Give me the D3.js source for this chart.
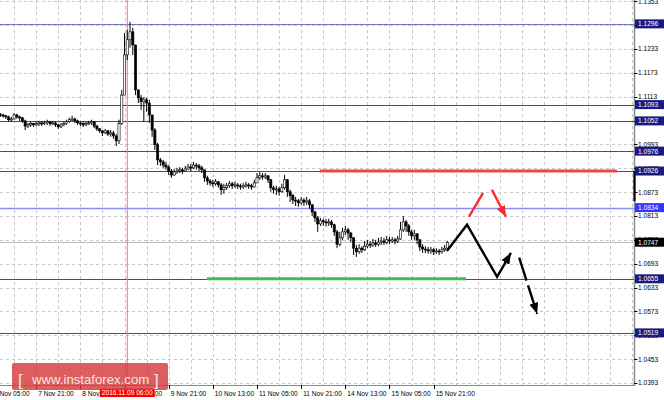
<!DOCTYPE html>
<html><head><meta charset="utf-8">
<script src="https://cdn.jsdelivr.net/npm/d3@7"></script>
<style>body{margin:0;background:#fff}svg{display:block}text{font-family:"Liberation Sans",Arial,sans-serif}</style>
</head><body><svg id="c" width="664" height="400"></svg>
<script>
// ---- data (EURUSD H1) ----
const firstOpen = 1.1068;
const closes = [1.1067,1.1065,1.1062,1.1055,1.1057,1.1067,1.1062,1.1060,1.1052,1.1039,
 1.1042,1.1045,1.1042,1.1045,1.1047,1.1045,1.1047,1.1050,1.1045,1.1047,
 1.1042,1.1037,1.1042,1.1045,1.1050,1.1055,1.1057,1.1052,1.1047,1.1045,
 1.1042,1.1045,1.1047,1.1050,1.1039,1.1032,1.1027,1.1022,1.1027,1.1019,
 1.1022,1.1014,1.1002,1.1045,1.1117,1.1218,1.1256,1.1276,1.1243,1.1130,
 1.1110,1.1100,1.1105,1.1097,1.1067,1.1029,1.0992,1.0954,1.0949,1.0941,
 1.0936,1.0926,1.0916,1.0924,1.0926,1.0929,1.0926,1.0931,1.0936,1.0934,
 1.0941,1.0939,1.0934,1.0929,1.0909,1.0901,1.0896,1.0894,1.0899,1.0891,
 1.0879,1.0884,1.0889,1.0894,1.0889,1.0891,1.0889,1.0886,1.0889,1.0891,
 1.0889,1.0886,1.0896,1.0909,1.0914,1.0911,1.0914,1.0904,1.0884,1.0879,
 1.0881,1.0874,1.0884,1.0904,1.0874,1.0864,1.0853,1.0851,1.0846,1.0853,
 1.0848,1.0851,1.0841,1.0823,1.0808,1.0793,1.0801,1.0798,1.0796,1.0798,
 1.0791,1.0773,1.0742,1.0758,1.0773,1.0778,1.0770,1.0758,1.0732,1.0723,
 1.0732,1.0728,1.0737,1.0742,1.0740,1.0745,1.0742,1.0747,1.0750,1.0747,
 1.0753,1.0750,1.0753,1.0750,1.0755,1.0778,1.0798,1.0788,1.0773,1.0763,
 1.0768,1.0753,1.0735,1.0730,1.0728,1.0725,1.0728,1.0723,1.0725,1.0723,
 1.0728,1.0732,1.0747];
const highs = [1.1072,1.1070,1.1067,1.1065,1.1062,1.1072,1.1070,1.1065,1.1062,1.1055,
 1.1047,1.1050,1.1047,1.1050,1.1052,1.1050,1.1052,1.1055,1.1052,1.1052,
 1.1050,1.1045,1.1047,1.1050,1.1055,1.1060,1.1065,1.1060,1.1055,1.1050,
 1.1050,1.1050,1.1052,1.1055,1.1050,1.1042,1.1034,1.1029,1.1032,1.1029,
 1.1029,1.1027,1.1019,1.1055,1.1130,1.1273,1.1281,1.1301,1.1286,1.1243,
 1.1130,1.1117,1.1112,1.1110,1.1105,1.1060,1.1034,1.0997,1.0959,1.0954,
 1.0949,1.0941,1.0931,1.0931,1.0934,1.0936,1.0934,1.0939,1.0944,1.0944,
 1.0949,1.0946,1.0944,1.0939,1.0929,1.0914,1.0906,1.0904,1.0906,1.0901,
 1.0896,1.0894,1.0896,1.0901,1.0899,1.0899,1.0896,1.0894,1.0896,1.0899,
 1.0896,1.0894,1.0904,1.0921,1.0924,1.0921,1.0921,1.0916,1.0906,1.0889,
 1.0889,1.0886,1.0894,1.0916,1.0906,1.0879,1.0869,1.0861,1.0856,1.0861,
 1.0858,1.0861,1.0856,1.0843,1.0826,1.0813,1.0808,1.0806,1.0806,1.0806,
 1.0803,1.0793,1.0778,1.0773,1.0783,1.0788,1.0783,1.0773,1.0760,1.0740,
 1.0742,1.0737,1.0750,1.0753,1.0750,1.0755,1.0753,1.0758,1.0760,1.0758,
 1.0763,1.0760,1.0760,1.0758,1.0763,1.0798,1.0813,1.0803,1.0793,1.0778,
 1.0778,1.0770,1.0755,1.0742,1.0737,1.0735,1.0735,1.0732,1.0732,1.0730,
 1.0735,1.0740,1.0750];
const lows = [1.1062,1.1060,1.1057,1.1050,1.1050,1.1055,1.1057,1.1052,1.1047,1.1029,
 1.1034,1.1037,1.1037,1.1039,1.1039,1.1039,1.1042,1.1042,1.1039,1.1042,
 1.1037,1.1032,1.1034,1.1039,1.1042,1.1047,1.1052,1.1047,1.1042,1.1039,
 1.1037,1.1039,1.1042,1.1042,1.1034,1.1027,1.1022,1.1014,1.1019,1.1014,
 1.1012,1.1007,1.0989,1.0994,1.1042,1.1117,1.1205,1.1236,1.1218,1.1117,
 1.1097,1.1080,1.1050,1.1075,1.1047,1.1012,1.0979,1.0941,1.0939,1.0934,
 1.0929,1.0916,1.0909,1.0914,1.0919,1.0921,1.0919,1.0924,1.0929,1.0926,
 1.0931,1.0929,1.0926,1.0921,1.0899,1.0891,1.0889,1.0886,1.0889,1.0884,
 1.0866,1.0869,1.0879,1.0884,1.0881,1.0884,1.0881,1.0879,1.0881,1.0884,
 1.0881,1.0879,1.0884,1.0899,1.0904,1.0904,1.0906,1.0896,1.0874,1.0869,
 1.0866,1.0864,1.0871,1.0879,1.0861,1.0848,1.0843,1.0838,1.0836,1.0841,
 1.0838,1.0841,1.0831,1.0813,1.0798,1.0773,1.0788,1.0788,1.0786,1.0788,
 1.0783,1.0763,1.0732,1.0737,1.0753,1.0765,1.0753,1.0747,1.0715,1.0710,
 1.0718,1.0720,1.0725,1.0732,1.0732,1.0735,1.0735,1.0737,1.0740,1.0740,
 1.0742,1.0742,1.0745,1.0742,1.0745,1.0753,1.0773,1.0773,1.0763,1.0753,
 1.0753,1.0742,1.0725,1.0720,1.0720,1.0718,1.0718,1.0715,1.0718,1.0715,
 1.0718,1.0723,1.0730];

const timeLabels = ["7 Nov 05:00","7 Nov 21:00","8 Nov 13:00","9 Nov 05:00","9 Nov 21:00","10 Nov 13:00","11 Nov 05:00","11 Nov 21:00","14 Nov 13:00","15 Nov 05:00","15 Nov 21:00"];
const timeLabelBars = [-3,13,29,45,61,77,93,109,125,141,157];
const markerLabel = "2016.11.09 06:00";
const markerBar = 46;
const priceTicks = [1.0393,1.0453,1.0513,1.0573,1.0633,1.0693,1.0753,1.0813,1.0873,1.0933,1.0993,1.1053,1.1113,1.1173,1.1233,1.1293,1.1353];
const navyLevels = [1.1296,1.1093,1.1052,1.0976,1.0926,1.0655,1.0519];
const blueLevel = 1.0834;
const bidPrice = 1.0747;
const redZone = {price:1.0926, from:115.8, to:223.4};
const greenZone = {price:1.0655, from:74.9, to:168.7};
const blackPath = [[161.8,1.0725],[169.1,1.0791],[180.0,1.0660],[185.0,1.0720]];
const blackDashed = [[188.0,1.0708],[194.5,1.0567]];
const redUp = [[169.8,1.0811],[174.9,1.0871]];
const redDown = [[178.1,1.0879],[183.2,1.0811]];
const axisMark = [1.0926,1.0850];

// ---- layout ----
const PW = 634, PH = 385;
const svg = d3.select("#c");
const x = d3.scaleLinear().domain([0,93]).range([0.32,257]);
const y = d3.scaleLinear().domain([1.0388,1.1356]).range([PH,0]);
const fmt = d3.format(".4f");

const defs = svg.append("defs");
defs.append("clipPath").attr("id","plot").append("rect").attr("x",0).attr("y",0).attr("width",PW).attr("height",PH);
function marker(id,color){
  defs.append("marker").attr("id",id).attr("markerUnits","userSpaceOnUse")
    .attr("markerWidth",12).attr("markerHeight",9).attr("refX",11).attr("refY",4.5).attr("orient","auto")
    .append("path").attr("d","M0,0 L11,4.5 L0,9 Z").attr("fill",color);
}
marker("ab","#000"); marker("ar","#ff2a2a");

const plot = svg.append("g").attr("clip-path","url(#plot)");

// grid
const vgrid = d3.range(5, 240, 8);
plot.selectAll(".vg").data(vgrid).join("line")
  .attr("x1",d=>Math.round(x(d))+0.5).attr("x2",d=>Math.round(x(d))+0.5).attr("y1",0).attr("y2",PH)
  .attr("stroke","#c8c8c8").attr("stroke-dasharray","3,3").attr("stroke-width",1);
plot.selectAll(".hg").data(priceTicks).join("line")
  .attr("x1",0).attr("x2",PW).attr("y1",d=>Math.round(y(d))+0.5).attr("y2",d=>Math.round(y(d))+0.5)
  .attr("stroke","#c8c8c8").attr("stroke-dasharray","3,3").attr("stroke-width",1);

// level lines
plot.selectAll(".lv").data(navyLevels).join("line")
  .attr("x1",0).attr("x2",PW).attr("y1",d=>Math.round(y(d))+0.5).attr("y2",d=>Math.round(y(d))+0.5)
  .attr("stroke",d=>d===1.1296?"#7474bc":"#4646aa").attr("stroke-width",1);
plot.append("line").attr("x1",0).attr("x2",PW).attr("y1",Math.round(y(blueLevel))+0.5).attr("y2",Math.round(y(blueLevel))+0.5)
  .attr("stroke","#8c8cff").attr("stroke-width",1.4);
plot.append("line").attr("x1",0).attr("x2",PW).attr("y1",Math.round(y(bidPrice))+0.5).attr("y2",Math.round(y(bidPrice))+0.5)
  .attr("stroke","#bdbdbd").attr("stroke-width",1);

// marker vertical line
plot.append("line").attr("x1",x(markerBar)).attr("x2",x(markerBar)).attr("y1",0).attr("y2",PH)
  .attr("stroke","#ff7070").attr("stroke-width",1);

// zones
plot.append("line").attr("x1",x(redZone.from)).attr("x2",x(redZone.to)).attr("y1",y(redZone.price)).attr("y2",y(redZone.price))
  .attr("stroke","#f24444").attr("stroke-width",3);
plot.append("line").attr("x1",x(greenZone.from)).attr("x2",x(greenZone.to)).attr("y1",y(greenZone.price)).attr("y2",y(greenZone.price))
  .attr("stroke","#3fba4c").attr("stroke-width",3);

// candles
const bars = closes.map((c,i)=>{
  const o = i===0?firstOpen:closes[i-1];
  return {i,o,c,h:Math.max(highs[i],o,c),l:Math.min(lows[i],o,c)};
});
const cg = plot.append("g");
cg.selectAll(".wk").data(bars).join("line")
  .attr("x1",d=>x(d.i)).attr("x2",d=>x(d.i)).attr("y1",d=>y(d.h)).attr("y2",d=>y(d.l))
  .attr("stroke","#000").attr("stroke-width",1);
cg.selectAll(".bd").data(bars).join("rect")
  .attr("x",d=>x(d.i)-1.1).attr("width",2.2)
  .attr("y",d=>y(Math.max(d.o,d.c))).attr("height",d=>Math.max(1,y(Math.min(d.o,d.c))-y(Math.max(d.o,d.c))))
  .attr("fill",d=>d.c>=d.o?"#fff":"#000").attr("stroke","#000").attr("stroke-width",0.6);

// forecast arrows
const line = d3.line().x(d=>x(d[0])).y(d=>y(d[1]));
plot.append("path").attr("d",line(blackPath)).attr("fill","none").attr("stroke","#000").attr("stroke-width",2.4)
  .attr("stroke-linejoin","miter").attr("marker-end","url(#ab)");
plot.append("path").attr("d",line(blackDashed)).attr("fill","none").attr("stroke","#000").attr("stroke-width",2.4)
  .attr("stroke-dasharray","24,5").attr("marker-end","url(#ab)");
plot.append("path").attr("d",line(redUp)).attr("fill","none").attr("stroke","#ff2a2a").attr("stroke-width",2.4);
plot.append("path").attr("d",line(redDown)).attr("fill","none").attr("stroke","#ff2a2a").attr("stroke-width",2.4)
  .attr("marker-end","url(#ar)");

// axes lines
svg.append("line").attr("x1",PW+0.5).attr("x2",PW+0.5).attr("y1",0).attr("y2",PH+1).attr("stroke","#8a8a8a").attr("stroke-width",1.5);
svg.append("line").attr("x1",0).attr("x2",PW+1).attr("y1",PH+0.5).attr("y2",PH+0.5).attr("stroke","#8a8a8a").attr("stroke-width",1);
svg.append("line").attr("x1",PW+0.5).attr("x2",PW+0.5).attr("y1",y(axisMark[0])).attr("y2",y(axisMark[1])).attr("stroke","#000").attr("stroke-width",2.2);

// right axis ticks + labels
const ra = svg.append("g");
ra.selectAll("line").data(priceTicks).join("line")
  .attr("x1",PW).attr("x2",PW+3.5).attr("y1",d=>Math.round(y(d))+0.5).attr("y2",d=>Math.round(y(d))+0.5).attr("stroke","#000");
ra.selectAll("text").data(priceTicks).join("text")
  .attr("x",PW+4).attr("y",d=>y(d)+2.4).attr("font-size",6.6).attr("fill","#000").text(d=>fmt(d));

// highlighted level labels
const hl = navyLevels.map(v=>({v,bg:"#1a1a80"})).concat([{v:blueLevel,bg:"#3535ff"},{v:bidPrice,bg:"#000"}]);
const hg = svg.append("g");
hg.selectAll("rect").data(hl).join("rect")
  .attr("x",PW+1).attr("width",29).attr("y",d=>y(d.v)-4.5).attr("height",9).attr("fill",d=>d.bg);
hg.selectAll("text").data(hl).join("text")
  .attr("x",PW+4).attr("y",d=>y(d.v)+2.4).attr("font-size",6.6).attr("fill","#fff").text(d=>fmt(d.v));

// bottom axis ticks + labels
const ba = svg.append("g");
ba.selectAll("line").data(timeLabelBars).join("line")
  .attr("x1",d=>Math.round(x(d))+0.5).attr("x2",d=>Math.round(x(d))+0.5).attr("y1",PH).attr("y2",PH+4).attr("stroke","#000");
ba.selectAll("text").data(timeLabels).join("text")
  .attr("x",(d,i)=>x(timeLabelBars[i])+2).attr("y",395.5).attr("font-size",6.6).attr("fill","#000").text(d=>d);
// marker label
svg.append("rect").attr("x",x(markerBar)-27.5).attr("width",55).attr("y",388.5).attr("height",8.5).attr("fill","#ff0000");
svg.append("text").attr("x",x(markerBar)).attr("y",395.3).attr("text-anchor","middle").attr("font-size",6.6).attr("fill","#fff").text(markerLabel);

// logo
const lg = svg.append("g");
lg.append("rect").attr("x",12).attr("y",363).attr("width",156).attr("height",27).attr("rx",2).attr("fill","#d43a3a").attr("opacity",0.82);
lg.append("text").attr("x",18).attr("y",386).attr("font-size",17).attr("fill","#f6e4e4").text("[");
lg.append("text").attr("x",32).attr("y",383.5).attr("font-size",13.2).attr("fill","#f6e4e4").text("www.instaforex.com");
lg.append("text").attr("x",154).attr("y",386).attr("font-size",17).attr("fill","#f6e4e4").text("]");
</script></body></html>
